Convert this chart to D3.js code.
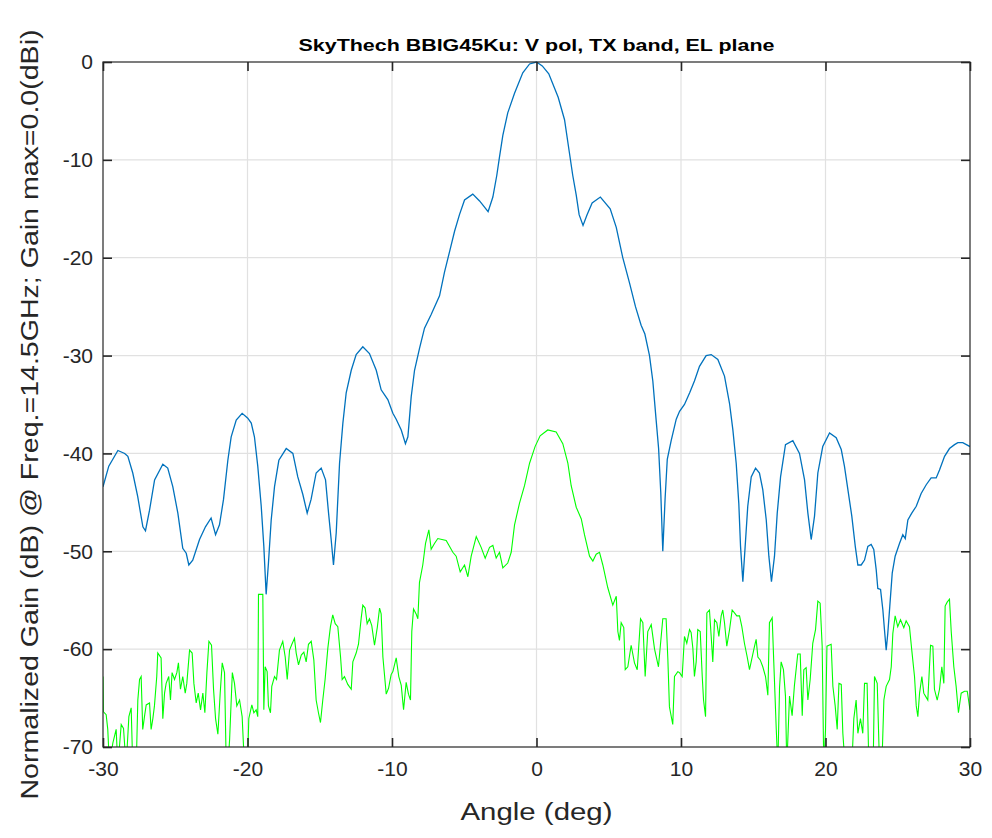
<!DOCTYPE html>
<html>
<head>
<meta charset="utf-8">
<script src="https://cdnjs.cloudflare.com/ajax/libs/d3/7.8.5/d3.min.js"></script>
<style>
	body { margin: 0; background: #fff; }
	svg { display: block; font-family: "Liberation Sans", Arial, sans-serif; }
</style>
</head>
<body>
<svg id="chart" width="992" height="838"></svg>
<script>
// co-polar (blue) trace, angle in deg / gain in dB
const coAngle = [-30.0,-29.6,-28.97,-28.5,-28.28,-27.94,-27.6,-27.24,-27.06,-26.78,-26.43,-25.86,-25.52,-25.17,-24.82,-24.48,-24.24,-24.06,-23.79,-23.32,-22.91,-22.52,-22.21,-21.94,-21.66,-21.36,-21.13,-20.78,-20.37,-19.98,-19.74,-19.52,-19.29,-19.05,-18.87,-18.71,-18.55,-18.36,-18.13,-17.83,-17.32,-16.86,-16.52,-16.17,-15.87,-15.6,-15.25,-14.9,-14.6,-14.39,-14.21,-14.05,-13.86,-13.63,-13.4,-13.17,-12.82,-12.48,-12.02,-11.56,-11.09,-10.75,-10.29,-9.94,-9.71,-9.36,-9.07,-8.9,-8.67,-8.44,-8.1,-7.75,-7.29,-6.71,-6.37,-6.02,-5.67,-5.33,-4.98,-4.41,-3.94,-3.35,-3.02,-2.75,-2.56,-2.33,-1.99,-1.52,-0.95,-0.48,0.0,0.4,0.85,1.5,1.94,2.28,2.51,2.75,2.95,3.22,3.5,3.85,4.42,5.1,5.52,5.97,6.44,6.85,7.24,7.5,7.82,8.05,8.28,8.45,8.6,8.74,8.9,9.05,9.32,9.67,9.9,10.24,10.6,10.93,11.28,11.74,12.09,12.55,13.01,13.36,13.59,13.82,14.0,14.12,14.28,14.44,14.62,14.86,15.16,15.43,15.66,15.9,16.08,16.26,16.47,16.66,16.89,17.23,17.74,18.2,18.55,18.78,19.01,19.24,19.47,19.81,20.28,20.74,21.09,21.31,21.59,21.82,22.06,22.24,22.47,22.7,22.93,23.16,23.34,23.51,23.62,23.81,23.97,24.08,24.2,24.31,24.45,24.62,24.82,25.12,25.35,25.52,25.7,25.97,26.28,26.62,26.97,27.31,27.66,27.89,28.24,28.58,28.93,29.16,29.5,30.0];
const coGain = [-43.4,-41.3,-39.7,-40.0,-40.3,-42.0,-44.4,-47.5,-47.9,-45.8,-42.7,-41.1,-41.5,-43.4,-46.1,-49.7,-50.2,-51.4,-50.9,-48.8,-47.5,-46.6,-48.3,-47.3,-44.7,-40.7,-38.3,-36.6,-35.9,-36.4,-36.9,-38.3,-41.3,-45.4,-49.5,-54.4,-51.2,-46.8,-43.4,-40.7,-39.5,-40.0,-42.4,-44.2,-46.1,-44.7,-42.0,-41.5,-42.7,-46.1,-48.8,-51.4,-48.1,-41.0,-36.9,-33.8,-31.5,-29.9,-29.1,-29.8,-31.5,-33.5,-34.5,-35.9,-36.5,-37.6,-39.0,-38.3,-34.2,-31.5,-29.3,-27.2,-25.8,-23.9,-21.5,-19.4,-17.3,-15.6,-14.1,-13.5,-14.2,-15.3,-13.8,-11.6,-9.7,-7.5,-5.2,-3.2,-1.1,-0.2,0.0,-0.4,-1.2,-3.6,-5.9,-9.3,-11.6,-13.6,-15.6,-16.7,-15.6,-14.4,-13.8,-15.0,-16.9,-20.0,-22.6,-25.0,-26.9,-27.8,-30.0,-32.6,-36.6,-39.5,-44.0,-50.0,-44.6,-40.6,-38.7,-36.5,-35.7,-35.0,-33.8,-32.6,-31.1,-30.0,-29.9,-30.4,-32.1,-34.9,-37.6,-41.0,-45.1,-49.5,-53.1,-49.5,-45.4,-42.4,-41.5,-42.0,-43.7,-46.8,-50.5,-53.1,-50.5,-46.1,-42.4,-39.1,-38.7,-40.0,-42.7,-46.1,-48.8,-46.4,-42.0,-39.3,-37.9,-38.4,-39.6,-41.3,-44.1,-46.4,-49.5,-51.4,-51.4,-50.9,-49.5,-49.3,-49.8,-51.9,-53.8,-53.9,-56.0,-58.0,-60.1,-58.4,-55.6,-52.2,-50.5,-49.2,-48.3,-48.7,-46.8,-46.1,-45.4,-44.1,-43.2,-42.5,-42.5,-41.7,-40.3,-39.5,-39.1,-38.9,-38.9,-39.3];

// cross-polar (green) trace
const xpAngle = [-30.0,-29.97,-29.78,-29.67,-29.55,-29.32,-29.09,-28.97,-28.74,-28.58,-28.4,-28.21,-28.05,-27.94,-27.7,-27.59,-27.47,-27.36,-27.25,-27.13,-27.01,-26.78,-26.67,-26.55,-26.44,-26.28,-26.21,-25.98,-25.86,-25.74,-25.63,-25.45,-25.33,-25.22,-25.05,-24.89,-24.78,-24.64,-24.48,-24.31,-24.2,-24.01,-23.83,-23.71,-23.55,-23.41,-23.25,-23.09,-22.95,-22.81,-22.67,-22.49,-22.35,-22.21,-22.05,-21.89,-21.75,-21.59,-21.47,-21.36,-21.24,-21.05,-20.9,-20.74,-20.55,-20.37,-20.21,-20.0,-19.91,-19.7,-19.56,-19.4,-19.29,-19.24,-18.94,-18.87,-18.78,-18.64,-18.55,-18.41,-18.32,-18.13,-17.99,-17.79,-17.56,-17.39,-17.25,-17.09,-16.93,-16.75,-16.63,-16.47,-16.28,-16.1,-15.94,-15.78,-15.59,-15.41,-15.25,-15.09,-14.95,-14.79,-14.63,-14.44,-14.26,-14.1,-13.93,-13.75,-13.56,-13.45,-13.29,-13.06,-12.82,-12.71,-12.48,-12.32,-12.13,-12.02,-11.86,-11.72,-11.56,-11.4,-11.21,-11.02,-10.86,-10.75,-10.63,-10.4,-10.24,-10.06,-9.94,-9.71,-9.53,-9.36,-9.2,-9.02,-8.86,-8.72,-8.63,-8.51,-8.33,-8.21,-8.1,-7.87,-7.68,-7.45,-7.29,-7.06,-6.83,-6.25,-5.79,-5.56,-5.28,-4.98,-4.75,-4.52,-4.17,-3.83,-3.55,-3.25,-3.02,-2.79,-2.56,-2.33,-1.99,-1.75,-1.52,-1.18,-0.83,-0.48,-0.1,0.25,0.78,1.36,1.82,2.17,2.4,2.75,3.1,3.32,3.67,3.9,4.13,4.36,4.59,4.93,5.28,5.52,5.63,5.74,5.86,6.04,6.14,6.32,6.55,6.78,6.97,7.2,7.36,7.52,7.7,7.94,8.17,8.44,8.74,8.97,9.09,9.2,9.43,9.55,9.78,9.9,10.08,10.24,10.4,10.59,10.7,10.82,10.93,11.05,11.16,11.33,11.47,11.56,11.7,11.79,11.97,12.09,12.2,12.32,12.48,12.62,12.78,12.89,13.01,13.17,13.36,13.54,13.7,13.86,14.05,14.21,14.39,14.58,14.74,14.9,15.09,15.2,15.32,15.48,15.66,15.85,16.01,16.12,16.31,16.42,16.59,16.7,16.82,16.93,17.09,17.23,17.32,17.51,17.69,17.85,18.08,18.25,18.39,18.5,18.66,18.78,18.94,19.12,19.31,19.47,19.63,19.77,19.88,20.0,20.1,20.39,20.51,20.67,20.81,20.93,21.09,21.2,21.36,21.82,21.96,22.12,22.24,22.42,22.58,22.7,22.88,23.0,23.3,23.39,23.58,23.74,23.9,24.04,24.2,24.43,24.55,24.66,24.82,25.0,25.19,25.42,25.58,25.81,25.97,26.16,26.28,26.39,26.51,26.67,26.8,26.92,27.08,27.27,27.43,27.54,27.73,27.89,28.05,28.19,28.28,28.42,28.58,28.7,28.88,29.04,29.2,29.39,29.62,29.81,30.0];
const xpGain = [-62.8,-66.4,-66.7,-68.2,-72,-69.6,-68.2,-72,-67.7,-68.1,-72,-66.9,-66.0,-72,-72,-65.2,-63.1,-62.8,-68.2,-66.9,-65.7,-65.5,-68.2,-67.1,-65.8,-62.8,-60.4,-60.9,-67.1,-64.5,-63.5,-62.8,-65.2,-62.4,-63.1,-62.4,-61.4,-64.1,-62.8,-64.5,-63.5,-60.1,-60.4,-63.5,-65.5,-64.5,-66.2,-64.5,-66.5,-62.4,-59.2,-59.6,-64.1,-67.1,-68.7,-64.5,-61.4,-62.4,-72,-72,-69.3,-62.4,-63.5,-65.8,-65.2,-66.9,-72,-72,-67.1,-65.7,-66.5,-66.2,-66.9,-54.4,-54.4,-66.2,-61.8,-62.3,-65.8,-66.5,-63.8,-62.8,-63.1,-60.1,-59.2,-60.8,-63.1,-60.1,-59.5,-58.9,-60.4,-61.6,-60.6,-60.3,-61.3,-59.5,-59.2,-61.1,-65.2,-66.5,-67.5,-65.2,-63.1,-59.9,-57.7,-56.5,-57.4,-57.7,-60.8,-63.1,-62.8,-63.6,-64.1,-61.3,-60.4,-59.5,-56.8,-55.5,-55.8,-57.4,-56.9,-57.6,-59.6,-57.8,-55.8,-56.4,-60.8,-64.6,-64.0,-62.6,-62.3,-60.9,-62.8,-63.7,-66.2,-63.4,-64.6,-65.2,-58.2,-55.9,-56.4,-56.9,-53.2,-51.4,-49.2,-47.8,-49.8,-49.2,-48.7,-48.9,-50.1,-50.5,-52.1,-51.4,-52.6,-50.5,-48.5,-49.6,-50.7,-49.6,-49.4,-50.7,-50.1,-51.7,-51.2,-50.1,-47.3,-45.1,-43.3,-41.0,-39.3,-38.2,-37.6,-37.8,-39.0,-41.0,-43.3,-45.5,-46.7,-48.3,-50.5,-51.0,-50.3,-50.1,-51.4,-53.7,-55.5,-54.6,-58.2,-59.1,-57.3,-57.8,-62.1,-61.8,-59.6,-61.4,-62.1,-56.9,-57.3,-62.8,-58.2,-57.5,-60.0,-61.8,-56.9,-56.9,-61.0,-65.9,-67.7,-62.8,-62.3,-62.4,-62.8,-58.7,-59.4,-58.0,-58.3,-59.9,-62.8,-61.3,-58.0,-58.2,-62.8,-65.2,-66.9,-56.3,-56.0,-58.7,-61.3,-57.0,-57.3,-58.7,-56.6,-56.0,-57.3,-59.7,-58.0,-56.0,-56.3,-56.6,-56.6,-57.7,-59.4,-60.8,-62.1,-61.0,-59.7,-59.0,-60.8,-61.1,-61.8,-62.8,-64.7,-57.3,-56.8,-61.3,-68.1,-72,-63.9,-61.3,-62.1,-64.8,-72,-64.8,-66.8,-63.7,-60.5,-60.5,-66.8,-62.1,-61.9,-65.2,-63.1,-59.4,-58.0,-55.1,-55.3,-59.7,-72,-68.3,-59.7,-59.5,-63.8,-65.8,-68.2,-63.5,-63.6,-68.6,-72,-72,-67.1,-65.2,-68.6,-67.1,-68.6,-63.5,-63.5,-72,-72,-62.8,-63.5,-72,-72,-65.2,-63.8,-63.1,-61.8,-58.4,-56.6,-57.7,-57.0,-57.8,-57.1,-57.7,-60.1,-62.8,-65.8,-66.9,-64.5,-62.8,-64.5,-64.8,-65.2,-59.6,-59.7,-64.1,-65.2,-64.1,-61.8,-63.5,-55.6,-55.2,-54.9,-58.2,-61.8,-63.8,-66.5,-64.5,-64.3,-64.3,-66.2];

const xTicks = [-30, -20, -10, 0, 10, 20, 30];
const yTicks = [-70, -60, -50, -40, -30, -20, -10, 0];

const titleText = 'SkyThech BBIG45Ku: V pol, TX band, EL plane';
const xLabelText = 'Angle (deg)';
const yLabelText = 'Normalized Gain (dB) @ Freq.=14.5GHz; Gain max=0.0(dBi)';

const box = { left: 103, right: 970, top: 62, bottom: 747 };
const axisColour = '#262626';

const svg = d3.select('#chart');

const x = d3.scaleLinear().domain([-30, 30]).range([box.left, box.right]);
const y = d3.scaleLinear().domain([-70, 0]).range([box.bottom, box.top]);

// plain hyphen minus, like the original figure
const tickFmt = d => String(d);

// grid
svg.append('g')
	.selectAll('line')
	.data(xTicks.slice(1, -1))
	.join('line')
	.attr('x1', d => x(d)).attr('x2', d => x(d))
	.attr('y1', box.top).attr('y2', box.bottom)
	.attr('stroke', '#e1e1e1').attr('stroke-width', 1.2);

svg.append('g')
	.selectAll('line')
	.data(yTicks.slice(1, -1))
	.join('line')
	.attr('x1', box.left).attr('x2', box.right)
	.attr('y1', d => y(d)).attr('y2', d => y(d))
	.attr('stroke', '#e1e1e1').attr('stroke-width', 1.2);

svg.append('clipPath').attr('id', 'plot-clip')
	.append('rect')
	.attr('x', box.left).attr('y', box.top - 1)
	.attr('width', box.right - box.left).attr('height', box.bottom - box.top + 1);

const line = d3.line()
	.x(d => x(d[0]))
	.y(d => y(d[1]));

const plot = svg.append('g').attr('clip-path', 'url(#plot-clip)');

plot.append('path')
	.datum(d3.zip(xpAngle, xpGain))
	.attr('d', line)
	.attr('fill', 'none')
	.attr('stroke', '#00ff00')
	.attr('stroke-width', 1.1);

plot.append('path')
	.datum(d3.zip(coAngle, coGain))
	.attr('d', line)
	.attr('fill', 'none')
	.attr('stroke', '#0072bd')
	.attr('stroke-width', 1.3);

// axes, MATLAB style: ticks inward on all four sides
const tickLen = 9;

const bottomAxis = d3.axisBottom(x).tickValues(xTicks).tickSize(-tickLen).tickPadding(14).tickFormat(tickFmt);
const topAxis = d3.axisTop(x).tickValues(xTicks).tickSize(-tickLen).tickFormat('');
const leftAxis = d3.axisLeft(y).tickValues(yTicks).tickSize(-tickLen).tickPadding(10).tickFormat(tickFmt);
const rightAxis = d3.axisRight(y).tickValues(yTicks).tickSize(-tickLen).tickFormat('');

const styleAxis = g => {
	g.select('.domain').remove();
	g.selectAll('.tick line').attr('stroke', axisColour).attr('stroke-width', 1.6);
	g.selectAll('.tick text')
		.attr('fill', axisColour)
		.attr('font-size', 21)
		.attr('font-family', '"Liberation Sans", Arial, sans-serif');
};

svg.append('g').attr('transform', `translate(0,${box.bottom})`).call(bottomAxis).call(styleAxis);
svg.append('g').attr('transform', `translate(0,${box.top})`).call(topAxis).call(styleAxis);
svg.append('g').attr('transform', `translate(${box.left},0)`).call(leftAxis).call(styleAxis);
svg.append('g').attr('transform', `translate(${box.right},0)`).call(rightAxis).call(styleAxis);

svg.append('rect')
	.attr('x', box.left).attr('y', box.top)
	.attr('width', box.right - box.left).attr('height', box.bottom - box.top)
	.attr('fill', 'none')
	.attr('stroke', axisColour)
	.attr('stroke-width', 1.2);

// labels
svg.append('text')
	.attr('x', (box.left + box.right) / 2).attr('y', 51)
	.attr('text-anchor', 'middle')
	.attr('font-weight', 'bold')
	.attr('font-size', 16)
	.attr('fill', '#000')
	.attr('textLength', 476).attr('lengthAdjust', 'spacingAndGlyphs')
	.text(titleText);

svg.append('text')
	.attr('x', (box.left + box.right) / 2).attr('y', 820)
	.attr('text-anchor', 'middle')
	.attr('font-size', 23)
	.attr('fill', axisColour)
	.attr('textLength', 152).attr('lengthAdjust', 'spacingAndGlyphs')
	.text(xLabelText);

svg.append('text')
	.attr('transform', `translate(38,${(box.top + box.bottom) / 2 + 10}) rotate(-90)`)
	.attr('text-anchor', 'middle')
	.attr('font-size', 23)
	.attr('fill', axisColour)
	.attr('textLength', 770).attr('lengthAdjust', 'spacingAndGlyphs')
	.text(yLabelText);
</script>
</body>
</html>
